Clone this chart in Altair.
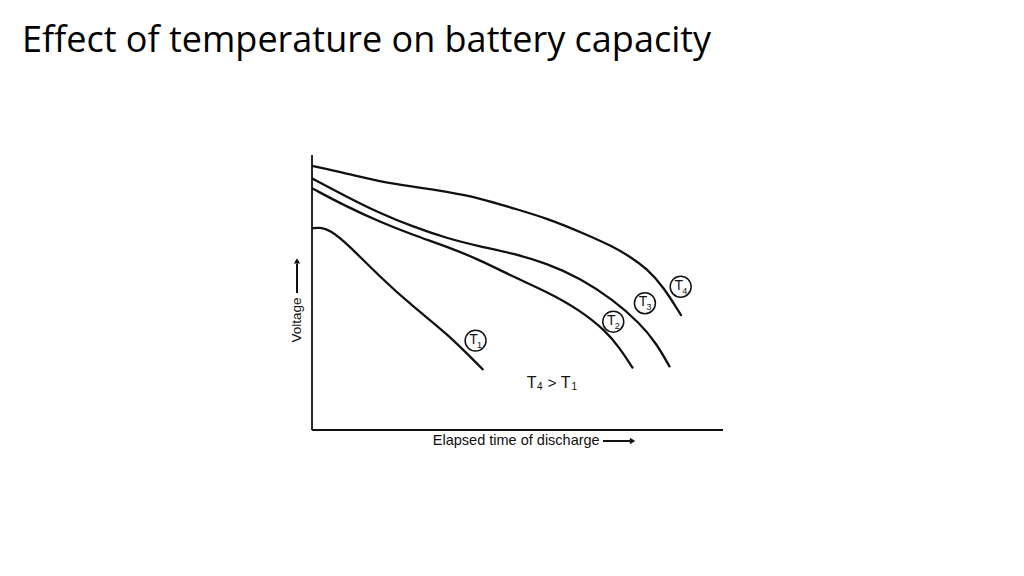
import altair as alt
import pandas as pd

# Curve data (time, voltage) in arbitrary units
t4_x = [0, 8.44, 16.5, 24.6, 32.8, 40.9, 49.0, 57.1, 65.2, 73.3, 77.4, 81.4, 85.5, 89.9]
t4_y = [96.0, 93.3, 90.3, 88.5, 86.7, 84.3, 80.6, 77.0, 72.1, 66.7, 63.0, 58.8, 52.1, 41.5]
t3_x = [0, 8.44, 16.5, 24.6, 32.8, 40.9, 49.0, 57.1, 65.2, 73.3, 79.8, 83.8, 87.1]
t3_y = [91.5, 84.8, 78.8, 73.9, 69.7, 66.7, 64.2, 60.6, 55.2, 47.3, 38.8, 31.5, 22.8]
t2_x = [0, 8.44, 16.5, 24.6, 32.8, 40.9, 49.0, 57.1, 65.2, 71.7, 74.9, 78.1]
t2_y = [87.9, 81.2, 75.7, 70.9, 66.7, 61.8, 55.7, 50.3, 43.6, 35.7, 29.7, 22.4]
t1_x = [0, 1.95, 4.38, 8.44, 16.5, 24.6, 32.8, 41.7]
t1_y = [73.3, 73.7, 72.7, 67.9, 55.7, 44.8, 35.2, 21.8]

labels = ["T", "T", "T", "T"]
subs = ["1", "2", "3", "4"]
label_x = [39.8, 73.3, 81.0, 89.7]
label_y = [32.5, 39.4, 46.1, 52.1]

title_text = "Effect of temperature on battery capacity"
xlabel = "Elapsed time of discharge"
ylabel = "Voltage"
note_parts = ["T", "4", ">", "T", "1"]
note_sizes = [16, 10, 15, 16, 10]
note_dx = [-15, -7, 5.5, 19, 27.5]
note_dy = [0, 4, 0, 0, 4]

rows = []
for name, xs_, ys_ in [("T1", t1_x, t1_y), ("T2", t2_x, t2_y), ("T3", t3_x, t3_y), ("T4", t4_x, t4_y)]:
    for i, (a, b) in enumerate(zip(xs_, ys_)):
        rows.append({"curve": name, "t": a, "v": b, "i": i})
curves = pd.DataFrame(rows)

xs = alt.Scale(domain=[-73.97, 171.29], nice=False, zero=False)
ys = alt.Scale(domain=[-50.18, 153.45], nice=False, zero=False)
X = lambda f: alt.X(f, type="quantitative", scale=xs, axis=None)
Y = lambda f: alt.Y(f, type="quantitative", scale=ys, axis=None)

lines = alt.Chart(curves).mark_line(color="#111", strokeWidth=2.3, interpolate="basis").encode(
    x=X("t"), y=Y("v"), detail="curve:N", order="i:Q"
)

axes_df = pd.DataFrame({"x1": [0, 0], "y1": [0, 0], "x2": [0, 100], "y2": [100, 0]})
axes = alt.Chart(axes_df).mark_rule(color="#111", strokeWidth=1.8).encode(
    x=X("x1"), y=Y("y1"), x2="x2", y2="y2"
)

lab_df = pd.DataFrame({"x": label_x, "y": label_y, "T": labels, "s": subs})
circles = alt.Chart(lab_df).mark_point(shape="circle", size=440, color="#111", strokeWidth=1.5, filled=False, opacity=1).encode(
    x=X("x"), y=Y("y")
)
tmain = alt.Chart(lab_df).mark_text(font="Liberation Sans", fontSize=14, color="#111", dx=-2, dy=-1).encode(
    x=X("x"), y=Y("y"), text="T:N"
)
tsub = alt.Chart(lab_df).mark_text(font="Liberation Sans", fontSize=9, color="#111", dx=4, dy=4).encode(
    x=X("x"), y=Y("y"), text="s:N"
)

note_layers = []
for part, size, dx, dy in zip(note_parts, note_sizes, note_dx, note_dy):
    note_layers.append(
        alt.Chart(pd.DataFrame({"x": [57.1], "y": [17.1], "txt": [part]})).mark_text(
            font="Liberation Sans", fontSize=size, color="#111", dx=dx, dy=dy
        ).encode(x=X("x"), y=Y("y"), text="txt:N")
    )

xl_df = pd.DataFrame({"x": [29.4], "y": [-4.0], "txt": [xlabel]})
xl = alt.Chart(xl_df).mark_text(font="Liberation Sans", fontSize=14.5, color="#111", align="left", baseline="middle").encode(
    x=X("x"), y=Y("y"), text="txt:N"
)
yl_df = pd.DataFrame({"x": [-3.65], "y": [40.0], "txt": [ylabel]})
yl = alt.Chart(yl_df).mark_text(font="Liberation Sans", fontSize=13.5, color="#111", angle=270, baseline="middle").encode(
    x=X("x"), y=Y("y"), text="txt:N"
)

arr_df = pd.DataFrame({"x1": [70.8, -3.65], "y1": [-4.0, 49.8], "x2": [77.5, -3.65], "y2": [-4.0, 60.5]})
arr_lines = alt.Chart(arr_df).mark_rule(color="#111", strokeWidth=2).encode(
    x=X("x1"), y=Y("y1"), x2="x2", y2="y2"
)
head_df = pd.DataFrame({"x": [78.0, -3.65], "y": [-4.0, 61.5], "shape": ["triangle-right", "triangle-up"]})
heads = alt.Chart(head_df).mark_point(filled=True, color="#111", size=40, opacity=1).encode(
    x=X("x"), y=Y("y"), shape=alt.Shape("shape:N", scale=None)
)

title = alt.Chart(pd.DataFrame({"txt": [title_text]})).mark_text(
    font="Open Sans", fontSize=36, color="#000", align="left", baseline="alphabetic"
).encode(x=alt.value(14), y=alt.value(44), text="txt:N")

chart = alt.layer(axes, lines, circles, tmain, tsub, *note_layers, xl, yl, arr_lines, heads, title).properties(
    width=1008, height=560, padding=0, background="white", autosize=alt.AutoSizeParams(type="none")
).configure_view(stroke="transparent", strokeWidth=0)

chart.save("out.html", embed_options={"renderer": "svg", "actions": False})
